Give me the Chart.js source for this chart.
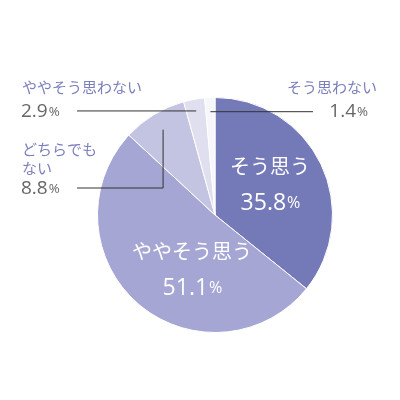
<!DOCTYPE html>
<html><head><meta charset="utf-8">
<script src="https://cdn.jsdelivr.net/npm/chart.js@4"></script>
<style>body{margin:0;background:#fff}#wrap{width:400px;height:400px}</style>
</head><body><div id="wrap"><canvas id="c"></canvas></div>
<script>
const labels = ['そう思う', 'ややそう思う', 'どちらでもない', 'ややそう思わない', 'そう思わない'];
const values = [35.8, 51.1, 8.8, 2.9, 1.4];
const colors = ['#7479b8', '#a5a6d3', '#c3c3e2', '#dfdfef', '#f6f6fb'];

const FONT = '"Noto Sans CJK JP", "Noto Sans", sans-serif';
const NUMFONT = '"Open Sans", "Noto Sans", sans-serif';

// draw labels: inside for big slices, with leader lines for small ones
const labelPlugin = {
    id: 'labels',
    afterDraw(chart) {
        const ctx = chart.ctx;
        const arcs = chart.getDatasetMeta(0).data;
        const pt = (i, f) => {
            const a = arcs[i];
            const m = (a.startAngle + a.endAngle) / 2;
            return [a.x + Math.cos(m) * a.outerRadius * f, a.y + Math.sin(m) * a.outerRadius * f];
        };
        const pct = (v, x, y, col, size, align) => {
            ctx.textAlign = 'left';
            ctx.fillStyle = col;
            ctx.font = size + 'px ' + NUMFONT;
            const s = v.toFixed(1);
            const w1 = ctx.measureText(s).width;
            ctx.font = (size * 0.7) + 'px ' + NUMFONT;
            const w2 = ctx.measureText('%').width;
            let x0 = align === 'right' ? x - w1 - w2 : align === 'center' ? x - (w1 + w2) / 2 : x;
            ctx.font = size + 'px ' + NUMFONT;
            ctx.fillText(s, x0, y);
            ctx.font = (size * 0.7) + 'px ' + NUMFONT;
            ctx.fillText('%', x0 + w1 + 1, y);
        };
        ctx.save();
        ctx.textBaseline = 'middle';

        // inside labels
        ctx.fillStyle = '#fff';
        ctx.textAlign = 'center';
        ctx.font = '20px ' + FONT;
        ctx.fillText(labels[0], 270, 166);
        pct(values[0], 270, 203, '#fff', 23, 'center');
        ctx.fillStyle = '#fff';
        ctx.textAlign = 'center';
        ctx.font = '20px ' + FONT;
        ctx.fillText(labels[1], 192, 251);
        pct(values[1], 192, 288, '#fff', 23, 'center');

        // leader lines
        ctx.strokeStyle = '#333';
        ctx.lineWidth = 1;
        let p = pt(4, 0.88);
        ctx.beginPath(); ctx.moveTo(p[0], p[1]); ctx.lineTo(313, p[1]); ctx.stroke();
        p = pt(3, 0.9);
        ctx.beginPath(); ctx.moveTo(p[0], p[1]); ctx.lineTo(77, p[1]); ctx.stroke();
        p = pt(2, 0.85);
        ctx.beginPath(); ctx.moveTo(p[0], p[1]); ctx.lineTo(p[0], 188); ctx.lineTo(77, 188); ctx.stroke();

        // outside labels
        ctx.fillStyle = '#7b7fbc';
        ctx.font = '15px ' + FONT;
        ctx.textAlign = 'left';
        ctx.fillText(labels[3], 22, 87);
        ctx.textAlign = 'right';
        ctx.fillText(labels[4], 377, 87);
        ctx.textAlign = 'left';
        ctx.fillText('どちらでも', 22, 149);
        ctx.fillText('ない', 22, 168);
        pct(values[3], 21, 112, '#666', 19, 'left');
        pct(values[4], 367, 112, '#666', 19, 'right');
        pct(values[2], 21, 189, '#666', 19, 'left');
        ctx.restore();
    }
};

new Chart(document.getElementById('c'), {
    type: 'pie',
    data: {
        labels: labels,
        datasets: [{
            data: values,
            backgroundColor: colors,
            borderColor: '#fff',
            borderWidth: 1
        }]
    },
    options: {
        responsive: true,
        maintainAspectRatio: false,
        animation: false,
        layout: { padding: { left: 97, right: 67, top: 97, bottom: 67 } },
        plugins: { legend: { display: false }, tooltip: { enabled: false } }
    },
    plugins: [labelPlugin]
});
</script>
</body></html>
